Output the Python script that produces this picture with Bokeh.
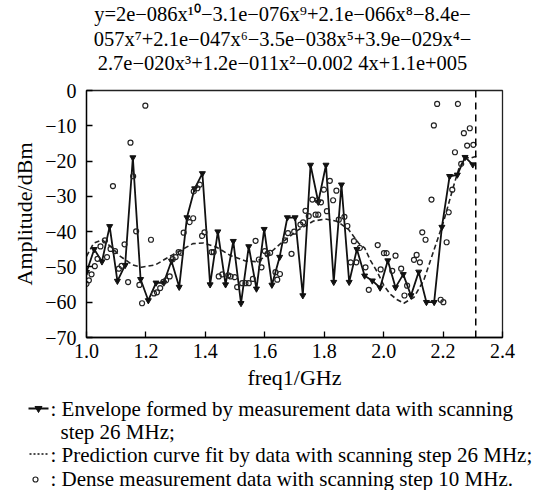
from bokeh.plotting import figure
from bokeh.models import Range1d, FixedTicker, CustomJSTickFormatter, Span
from bokeh.layouts import column
from bokeh.embed import file_html
from bokeh.resources import INLINE
from bokeh.core.properties import value

FONT = "Liberation Serif"

# ---------------- data ----------------
# envelope, scanning step 26 MHz
env_freq = [1.000, 1.026, 1.052, 1.078, 1.104, 1.130, 1.156, 1.182, 1.208, 1.234,
            1.260, 1.286, 1.312, 1.338, 1.364, 1.390, 1.416, 1.442, 1.468, 1.494,
            1.520, 1.546, 1.572, 1.598, 1.624, 1.650, 1.676, 1.702, 1.728, 1.754,
            1.780, 1.806, 1.832, 1.858, 1.884, 1.910, 1.936, 1.962, 1.988, 2.014,
            2.040, 2.066, 2.092, 2.118, 2.144, 2.170, 2.196, 2.222, 2.248, 2.274,
            2.300]
env_amp = [-51.5, -45.0, -48.5, -38.5, -54.0, -49.5, -19.0, -53.5, -59.5, -54.5,
           -54.5, -48.3, -55.7, -36.0, -27.8, -23.5, -55.0, -40.0, -55.0, -42.7,
           -60.3, -44.2, -56.2, -39.3, -55.1, -47.2, -36.0, -36.0, -58.1, -21.1,
           -31.6, -21.1, -54.3, -26.7, -54.3, -45.0, -52.5, -53.9, -55.9, -48.2,
           -55.8, -52.1, -58.1, -51.4, -60.0, -60.0, -38.7, -24.3, -23.9, -18.9,
           -21.0]

# prediction (polynomial fit) curve
fit_freq = [1.000, 1.024, 1.053, 1.081, 1.114, 1.155, 1.185, 1.232, 1.291, 1.358,
            1.394, 1.438, 1.485, 1.535, 1.569, 1.602, 1.653, 1.709, 1.764, 1.804,
            1.844, 1.882, 1.917, 1.936, 1.956, 1.979, 2.001, 2.023, 2.046, 2.068,
            2.102, 2.135, 2.169, 2.203, 2.236, 2.253, 2.276, 2.292, 2.313]
fit_amp = [-47.0, -43.3, -42.3, -44.2, -47.0, -49.4, -50.1, -49.4, -46.5, -43.4,
           -43.2, -44.4, -46.8, -48.3, -48.5, -47.2, -43.4, -39.7, -37.0, -36.4,
           -37.1, -39.4, -43.4, -44.6, -48.2, -51.5, -55.3, -57.8, -59.3, -60.3,
           -58.6, -53.8, -45.3, -36.8, -26.9, -22.2, -18.9, -19.2, -18.6]

# dense measurement data, scanning step 10 MHz
dense_freq = [1.000, 1.008, 1.017, 1.028, 1.037, 1.047, 1.062, 1.069, 1.081, 1.089,
              1.096, 1.109, 1.118, 1.128, 1.140, 1.148, 1.157, 1.167, 1.178, 1.187,
              1.198, 1.217, 1.227, 1.237, 1.248, 1.259, 1.268, 1.280, 1.290, 1.300,
              1.310, 1.318, 1.327, 1.347, 1.359, 1.361, 1.373, 1.381, 1.389, 1.397,
              1.421, 1.428, 1.445, 1.457, 1.477, 1.485, 1.499, 1.507, 1.524, 1.535,
              1.546, 1.560, 1.569, 1.580, 1.589, 1.600, 1.609, 1.618, 1.636, 1.642,
              1.651, 1.668, 1.678, 1.690, 1.699, 1.720, 1.729, 1.737, 1.748, 1.760,
              1.771, 1.777, 1.780, 1.789, 1.799, 1.809, 1.819, 1.830, 1.841, 1.849,
              1.868, 1.878, 1.889, 1.900, 1.908, 1.920, 1.939, 1.950, 1.980, 1.990,
              2.001, 2.010, 2.029, 2.040, 2.059, 2.070, 2.079, 2.102, 2.111, 2.122,
              2.130, 2.141, 2.161, 2.169, 2.180, 2.192, 2.201, 2.212, 2.219, 2.231,
              2.240, 2.250, 2.261, 2.270, 2.281, 2.290, 2.302]
dense_amp = [-54.8, -53.8, -52.1, -49.8, -47.7, -44.2, -42.5, -47.2, -44.9, -27.1,
             -45.5, -50.5, -49.7, -43.6, -54.3, -14.8, -24.3, -39.9, -55.1, -60.3,
             -4.3, -42.3, -57.5, -57.2, -56.0, -54.2, -53.8, -52.7, -47.8, -47.2,
             -45.8, -46.0, -40.3, -37.3, -36.2, -28.6, -27.7, -26.7, -41.2, -40.2,
             -45.8, -45.8, -52.7, -52.1, -52.4, -52.7, -52.9, -55.7, -54.6, -54.6,
             -54.6, -53.4, -42.6, -47.9, -50.1, -45.5, -46.3, -46.0, -51.5, -53.6,
             -52.0, -42.5, -40.4, -46.3, -40.0, -38.0, -37.4, -34.1, -35.6, -30.9,
             -35.2, -31.1, -35.2, -31.7, -28.1, -34.2, -25.6, -31.1, -28.4, -36.6,
             -35.8, -38.4, -48.7, -42.7, -48.7, -44.6, -50.1, -56.5, -43.8, -50.7,
             -46.1, -46.1, -51.1, -46.8, -50.5, -58.1, -55.3, -48.0, -46.6, -48.7,
             -40.2, -42.3, -30.9, -9.9, -3.8, -59.3, -60.0, -43.0, -34.5, -28.1,
             -17.5, -3.8, -20.8, -12.1, -15.6, -10.7, -15.4]

cutoff_freq = 2.31

x_ticks = [1.0, 1.2, 1.4, 1.6, 1.8, 2.0, 2.2, 2.4]
x_tick_labels = ["1.0", "1.2", "1.4", "1.6", "1.8", "2.0", "2.2", "2.4"]
y_ticks = [-70, -60, -50, -40, -30, -20, -10, 0]
y_tick_labels = ["\u221270", "\u221260", "\u221250", "\u221240", "\u221230", "\u221220", "\u221210", "0"]

title_lines = [
    "y=2e\u2212086x\u00b9\u2070\u22123.1e\u2212076x\u2079+2.1e\u2212066x\u2078\u22128.4e\u2212",
    "057x\u2077+2.1e\u2212047x\u2076\u22123.5e\u2212038x\u2075+3.9e\u2212029x\u2074\u2212",
    "2.7e\u2212020x\u00b3+1.2e\u2212011x\u00b2\u22120.002 4x+1.1e+005",
]
x_label = "freq1/GHz"
y_label = "Amplitude/dBm"
legend_texts = [
    ": Envelope formed by measurement data with scanning",
    "step 26 MHz;",
    ": Prediction curve fit by data with scanning step 26 MHz;",
    ": Dense measurement data with scanning step 10 MHz.",
]


def blank_fig(h):
    f = figure(width=541, height=h, x_range=Range1d(0, 541), y_range=Range1d(h, 0),
               output_backend="svg", toolbar_location=None,
               x_axis_location=None, y_axis_location=None,
               min_border_left=0, min_border_right=0, min_border_top=0, min_border_bottom=0)
    f.grid.visible = False
    f.outline_line_color = None
    f.background_fill_color = "white"
    f.border_fill_color = "white"
    f.frame_align = False
    return f


# ---------------- title block ----------------
tf = blank_fig(74)
tf.text(x=[282, 282, 282], y=[13.8, 38.0, 62.3], text=title_lines, text_font=value(FONT),
        text_font_size="20.5px", text_baseline="middle", text_align="center", text_color="black")

# ---------------- main plot ----------------
p = figure(width=541, height=322, x_range=Range1d(1.0, 2.4), y_range=Range1d(-70, 0),
           output_backend="svg", toolbar_location=None,
           min_border_left=86, min_border_right=39, min_border_top=16, min_border_bottom=59)
p.frame_align = False
p.xgrid.visible = False
p.ygrid.visible = False
p.outline_line_color = "#222222"
p.outline_line_width = 1.3
p.outline_line_alpha = 1.0
p.background_fill_color = "white"
p.border_fill_color = "white"

fmt_code = """
for (let i = 0; i < tv.length; i++) {
  if (Math.abs(tv[i] - tick) < 1e-6) { return tl[i]; }
}
return '';
"""
p.xaxis.ticker = FixedTicker(ticks=x_ticks)
p.xaxis.formatter = CustomJSTickFormatter(args=dict(tv=x_ticks, tl=x_tick_labels), code=fmt_code)
p.yaxis.ticker = FixedTicker(ticks=y_ticks)
p.yaxis.formatter = CustomJSTickFormatter(args=dict(tv=y_ticks, tl=y_tick_labels), code=fmt_code)
p.xaxis.axis_label = x_label
p.yaxis.axis_label = y_label

for ax in (p.xaxis[0], p.yaxis[0]):
    ax.major_tick_in = 6
    ax.major_tick_out = 0
    ax.minor_tick_in = 0
    ax.minor_tick_out = 0
    ax.axis_line_color = "black"
    ax.axis_line_width = 1.3
    ax.major_tick_line_color = "black"
    ax.major_tick_line_width = 1.3
    ax.major_label_text_font = FONT
    ax.major_label_text_font_size = "20px"
    ax.major_label_text_color = "black"
    ax.axis_label_text_font = FONT
    ax.axis_label_text_font_size = "22px"
    ax.axis_label_text_font_style = "normal"
    ax.axis_label_text_color = "black"
p.xaxis.major_label_standoff = 6
p.xaxis.axis_label_standoff = 4
p.yaxis.major_label_standoff = 10
p.yaxis.axis_label_standoff = 5

p.line(fit_freq, fit_amp, line_dash="5 3", line_width=1.6, line_color="#222222")
p.line(env_freq, env_amp, line_width=1.8, line_color="#111111")
p.scatter(env_freq, env_amp, marker="inverted_triangle", size=6, fill_color="#111111", line_color="#111111")
p.scatter(dense_freq, dense_amp, marker="circle", size=5, fill_color=None,
          line_color="#222222", line_width=1.2)
p.add_layout(Span(location=cutoff_freq, dimension="height", line_dash="7 5",
                  line_width=1.5, line_color="black"))

# ---------------- legend block ----------------
lg = blank_fig(94)
row_y = [12.0, 35.0, 58.5, 82.0]
lg.line([28, 48], [row_y[0], row_y[0]], line_width=1.8, line_color="#111111")
lg.scatter([38], [row_y[0]], marker="inverted_triangle", size=7, fill_color="#111111", line_color="#111111")
lg.line([29, 47], [row_y[2] - 1, row_y[2] - 1], line_dash="2 2", line_width=1.3, line_color="#111111")
lg.scatter([35], [row_y[3] + 1], marker="circle", size=5, fill_color=None, line_color="#222222", line_width=1.2)
lg.text(x=[50, 60, 50, 50], y=row_y, text=legend_texts, text_font=value(FONT),
        text_font_size="21px", text_baseline="middle", text_align="left", text_color="black")

layout = column(tf, p, lg, spacing=0)
open("out.html", "w").write(file_html(layout, INLINE))
